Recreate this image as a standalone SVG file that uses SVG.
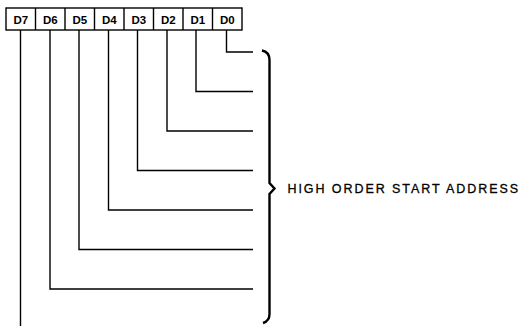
<svg xmlns="http://www.w3.org/2000/svg" width="523" height="326" viewBox="0 0 523 326">
<style>
.box{fill:none;stroke:#000;stroke-width:1.4}
.lbl{font-family:"Liberation Sans",Arial,sans-serif;font-size:11.5px;font-weight:bold;fill:#000;text-anchor:middle}
.wire{fill:none;stroke:#000;stroke-width:1.4}
.brace{fill:none;stroke:#000;stroke-width:2.4;stroke-linejoin:miter}
.note{font-family:"Liberation Sans",Arial,sans-serif;font-size:12.5px;fill:#000;stroke:#000;stroke-width:0.3}
</style>
<rect width="523" height="326" fill="#fff"/>
<g id="register">
<rect class="box" x="6" y="8" width="236" height="22"/>
<path class="box" d="M35.5 8V30M65 8V30M94.5 8V30M124 8V30M153.5 8V30M183 8V30M212.5 8V30"/>
</g>
<g id="D7"><text class="lbl" x="20.8" y="23.5">D7</text></g>
<g id="D6"><text class="lbl" x="50.3" y="23.5">D6</text></g>
<g id="D5"><text class="lbl" x="79.8" y="23.5">D5</text></g>
<g id="D4"><text class="lbl" x="109.3" y="23.5">D4</text></g>
<g id="D3"><text class="lbl" x="138.8" y="23.5">D3</text></g>
<g id="D2"><text class="lbl" x="168.3" y="23.5">D2</text></g>
<g id="D1"><text class="lbl" x="197.8" y="23.5">D1</text></g>
<g id="D0"><text class="lbl" x="227.3" y="23.5">D0</text></g>
<g id="connectors">
<path class="wire" d="M226.5 30V52H253"/>
<path class="wire" d="M196 30V91.5H253"/>
<path class="wire" d="M167 30V131H253"/>
<path class="wire" d="M137.5 30V170.5H253"/>
<path class="wire" d="M108.5 30V210H253"/>
<path class="wire" d="M79 30V249.5H253"/>
<path class="wire" d="M50 30V289H253"/>
<path class="wire" d="M20.5 30V326"/>
</g>
<g id="brace">
<path class="brace" d="M262 50.5Q269.5 52 269.5 60V183L274.5 188.5L269.5 194V314Q269.5 321 263 323"/>
</g>
<g id="label">
<text class="note" x="287.5" y="193.3" textLength="230.5" lengthAdjust="spacing">HIGH ORDER START ADDRESS</text>
</g>
</svg>
